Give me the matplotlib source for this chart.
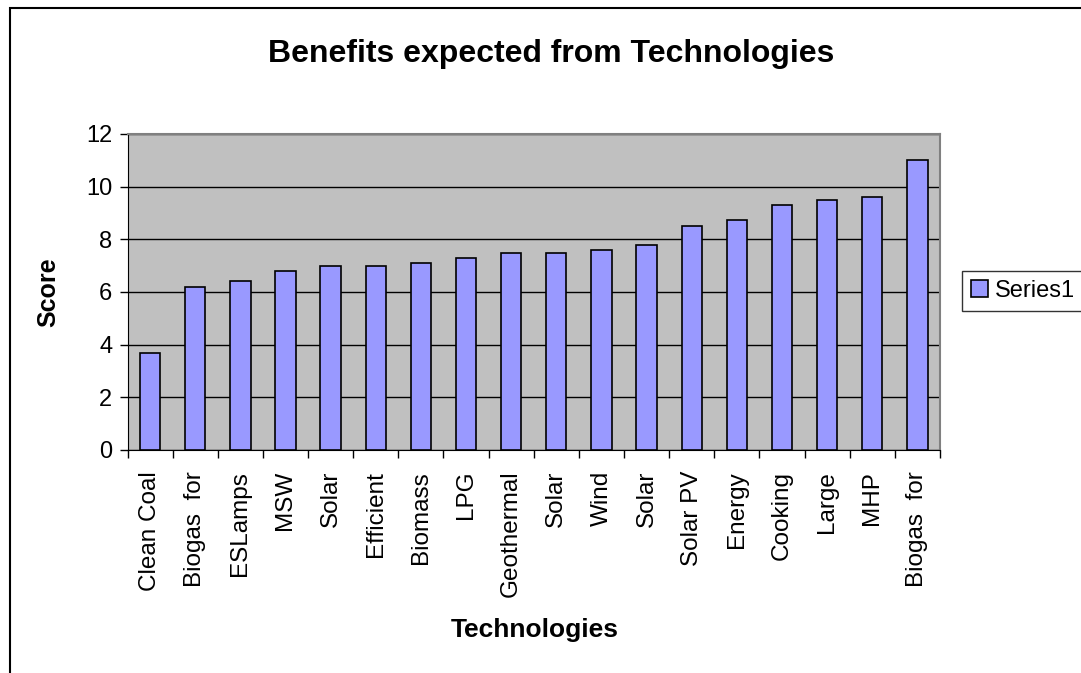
import matplotlib
matplotlib.use('Agg')
import matplotlib.pyplot as plt
from matplotlib.patches import Rectangle

technologies = ['Clean Coal', 'Biogas  for', 'ESLamps', 'MSW', 'Solar', 'Efficient',
                'Biomass', 'LPG', 'Geothermal', 'Solar', 'Wind', 'Solar',
                'Solar PV', 'Energy', 'Cooking', 'Large', 'MHP', 'Biogas  for']
scores = [3.7, 6.2, 6.4, 6.8, 7.0, 7.0, 7.1, 7.3, 7.5, 7.5, 7.6, 7.8,
          8.5, 8.75, 9.3, 9.5, 9.6, 11.0]
y_ticks = [0, 2, 4, 6, 8, 10, 12]

plt.rcParams['font.family'] = ['Liberation Sans', 'DejaVu Sans']

W, H = 1081, 673
fig = plt.figure(figsize=(W / 100, H / 100), dpi=100)
ax = fig.add_axes([127.5 / W, 1 - 450 / H, (940 - 127.5) / W, (450 - 134) / H])

x = list(range(len(technologies)))
ax.bar(x, scores, width=0.45, color='#9999FF', edgecolor='black', linewidth=1.2,
       zorder=3, label='Series1')

ax.set_facecolor('#C0C0C0')
ax.set_xlim(-0.5, len(technologies) - 0.5)
ax.set_ylim(0, 12)
ax.set_yticks(y_ticks)
ax.grid(axis='y', color='black', linewidth=1.0, zorder=1)
ax.set_axisbelow(True)

# labels under bars, ticks on the category boundaries
ax.set_xticks(x, technologies, rotation=90, fontsize=17.5)
ax.tick_params(axis='x', which='major', length=0, pad=15)
ax.set_xticks([i - 0.5 for i in range(len(technologies) + 1)], minor=True)
ax.tick_params(axis='x', which='minor', length=6, width=1, direction='out', color='black')
ax.tick_params(axis='y', length=6, width=1, direction='out', labelsize=17, pad=5)

for side in ['top', 'right']:
    ax.spines[side].set_color('#808080')
    ax.spines[side].set_linewidth(1.5)
ax.spines['left'].set_color('black')
ax.spines['bottom'].set_color('black')

fig.text(551.5 / W, 1 - 54 / H, 'Benefits expected from Technologies',
         ha='center', va='center', fontsize=23, fontweight='bold')
fig.text(535 / W, 1 - 630 / H, 'Technologies', ha='center', va='center',
         fontsize=19, fontweight='bold')
fig.text(48 / W, 1 - 292 / H, 'Score', ha='center', va='center', rotation=90,
         fontsize=18, fontweight='bold')

leg = fig.legend(loc='center left', bbox_to_anchor=(962 / W, 1 - 291 / H),
                 fontsize=17, frameon=True, fancybox=False, edgecolor='black',
                 handlelength=0.7, handleheight=0.7, handletextpad=0.3,
                 borderpad=0.4, borderaxespad=0)
leg.get_frame().set_linewidth(1.0)

# outer chart border (cut off at right and bottom)
fig.patches.append(Rectangle((10 / W, -0.1), 1.2, 1.1 - 8 / H, transform=fig.transFigure,
                             fill=False, edgecolor='black', linewidth=1.5))

fig.savefig('out.png', dpi=100, facecolor='white')
